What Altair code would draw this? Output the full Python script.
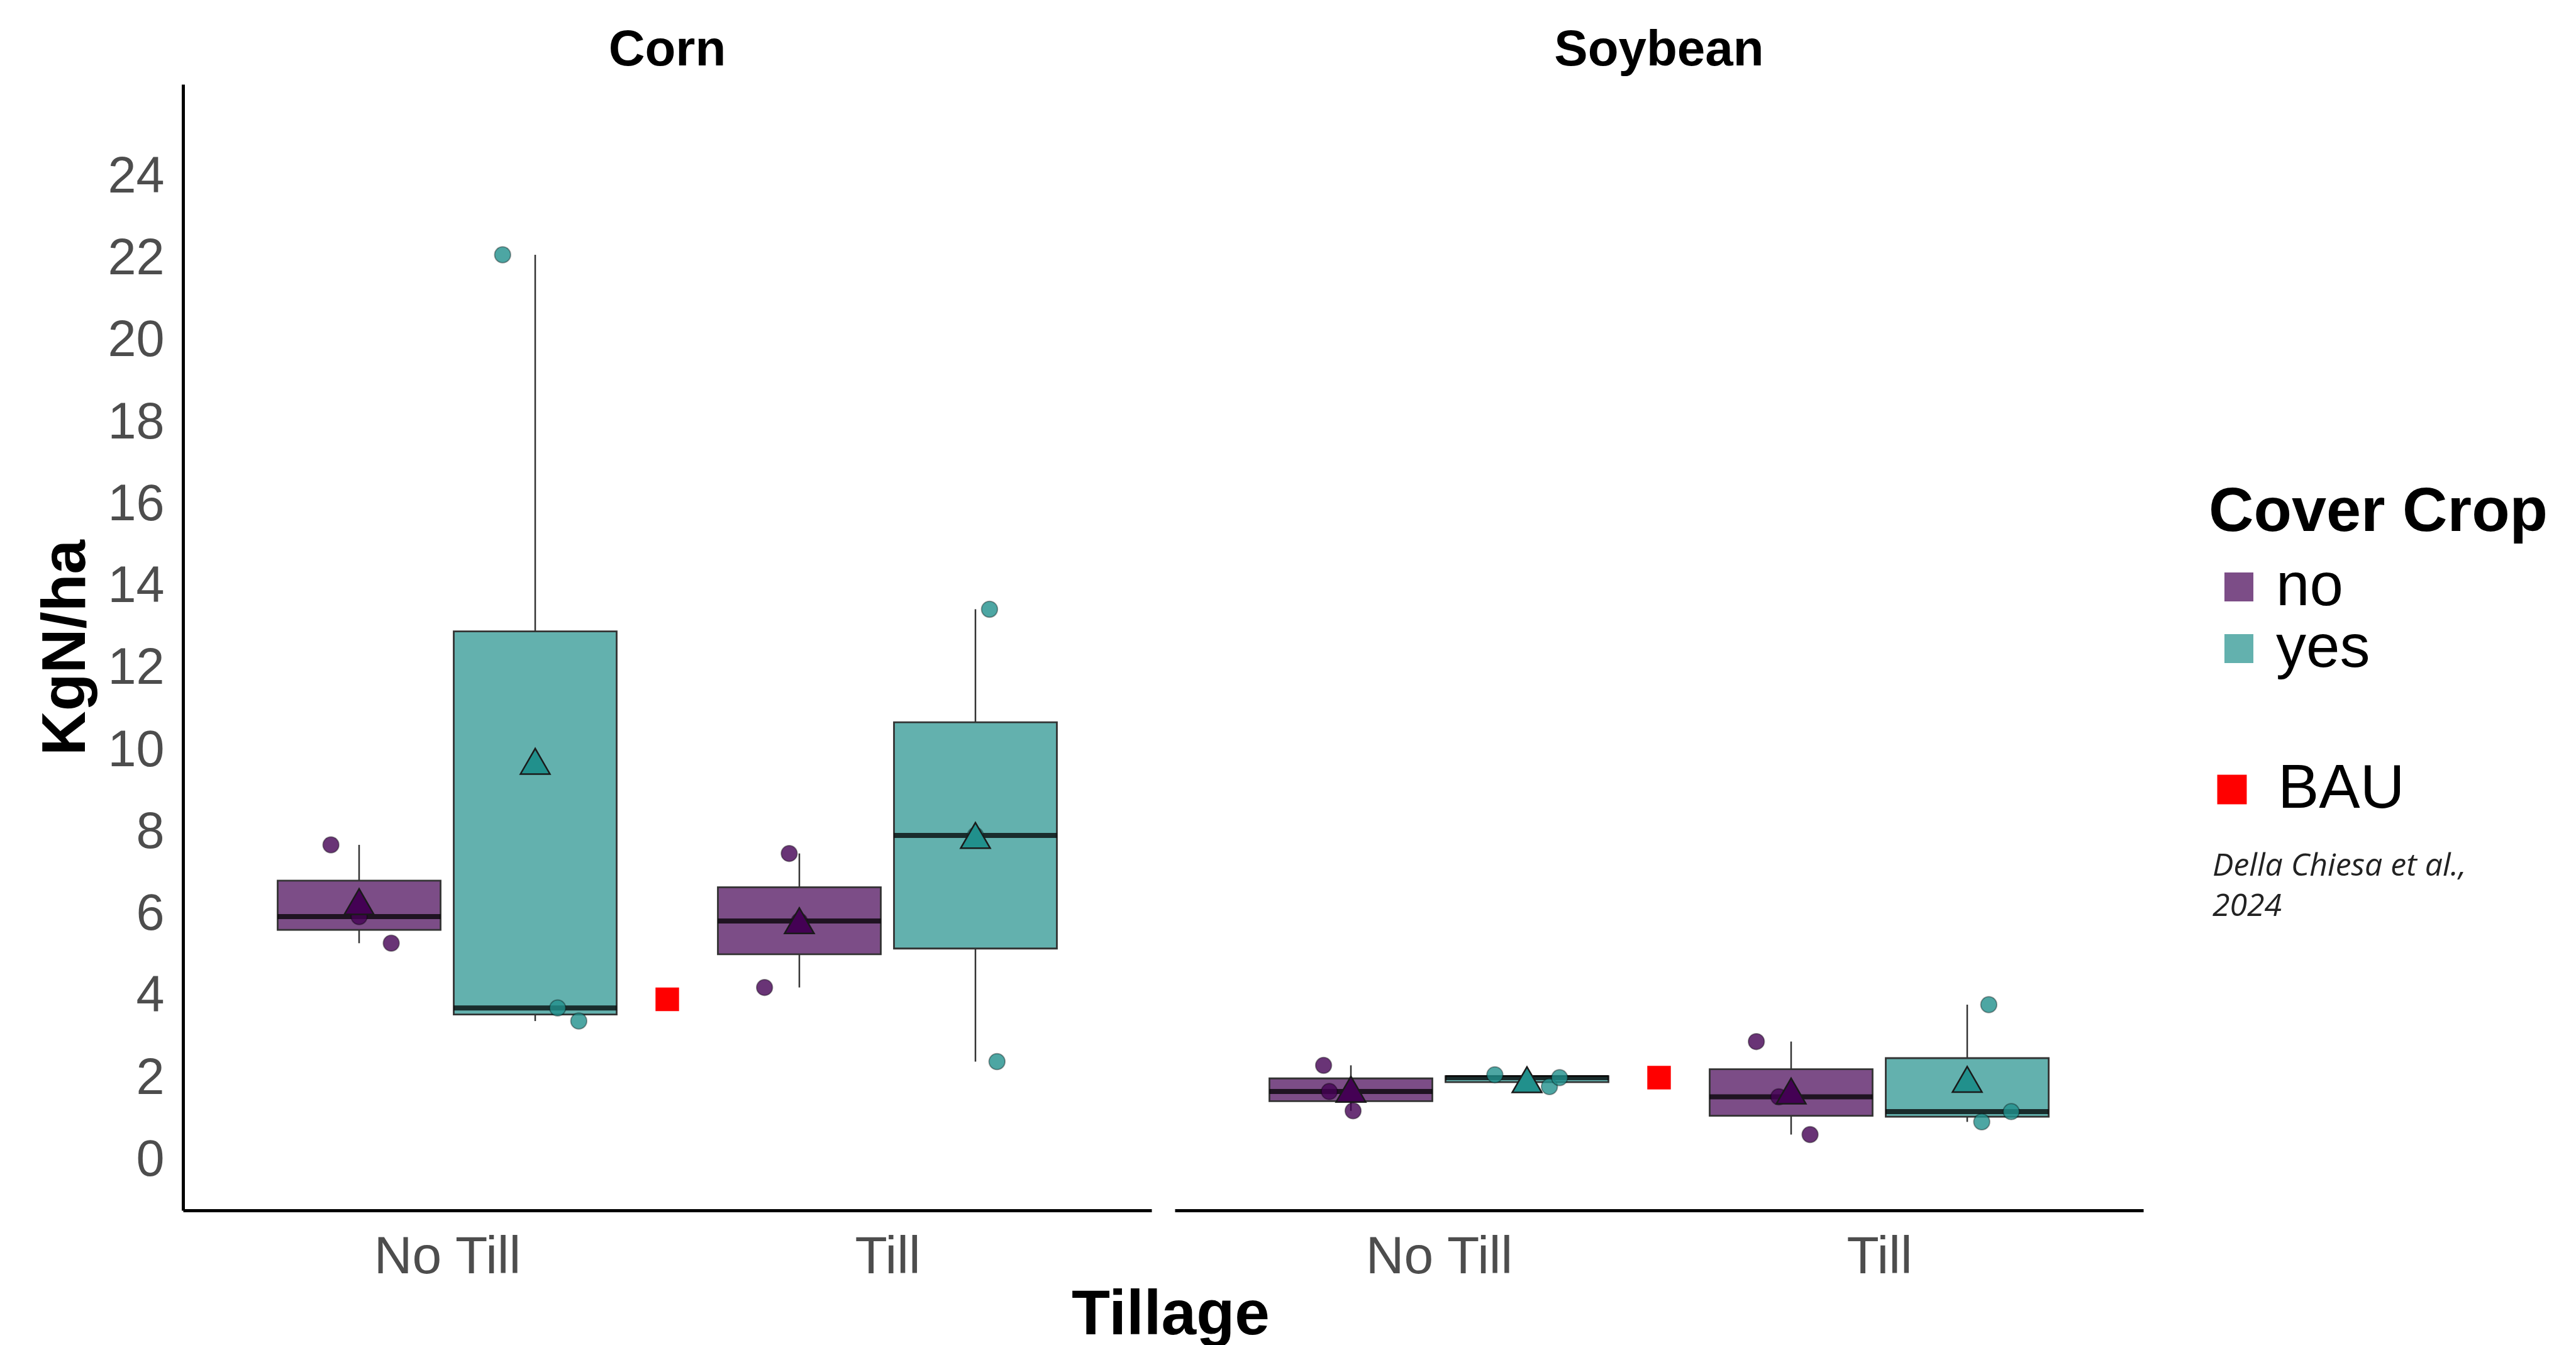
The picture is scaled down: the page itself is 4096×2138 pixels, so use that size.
import altair as alt
import pandas as pd

# ---------------- data ----------------
CROPS = ["Corn", "Soybean"]
TILLAGE = ["No Till", "Till"]
COVER = ["no", "yes"]

# three replicate values (KgN/ha) per crop x tillage x cover crop
CORN_NOTILL_NO = [7.70, 5.95, 5.30]
CORN_NOTILL_YES = [22.10, 3.72, 3.40]
CORN_TILL_NO = [7.49, 5.84, 4.22]
CORN_TILL_YES = [13.45, 7.93, 2.41]
SOY_NOTILL_NO = [2.32, 1.68, 1.21]
SOY_NOTILL_YES = [2.09, 1.80, 2.02]
SOY_TILL_NO = [2.90, 1.55, 0.63]
SOY_TILL_YES = [3.80, 1.19, 0.94]

BAU_VALUES = [3.93, 2.02]  # Corn, Soybean
BAU_LABEL = "BAU"
CITATION = ["Della Chiesa et al.,", "2024"]

# horizontal jitter of the replicate points (x units)
JIT_CORN_NOTILL_NO = [-0.064, 0.0, 0.073]
JIT_CORN_NOTILL_YES = [-0.074, 0.051, 0.099]
JIT_CORN_TILL_NO = [-0.023, 0.0, -0.079]
JIT_CORN_TILL_YES = [0.032, 0.0, 0.049]
JIT_SOY_NOTILL_NO = [-0.062, -0.049, 0.005]
JIT_SOY_NOTILL_YES = [-0.073, 0.051, 0.074]
JIT_SOY_TILL_NO = [-0.079, -0.028, 0.043]
JIT_SOY_TILL_YES = [0.049, 0.100, 0.033]

GROUPS = [
    ("Corn", "No Till", "no", CORN_NOTILL_NO, JIT_CORN_NOTILL_NO),
    ("Corn", "No Till", "yes", CORN_NOTILL_YES, JIT_CORN_NOTILL_YES),
    ("Corn", "Till", "no", CORN_TILL_NO, JIT_CORN_TILL_NO),
    ("Corn", "Till", "yes", CORN_TILL_YES, JIT_CORN_TILL_YES),
    ("Soybean", "No Till", "no", SOY_NOTILL_NO, JIT_SOY_NOTILL_NO),
    ("Soybean", "No Till", "yes", SOY_NOTILL_YES, JIT_SOY_NOTILL_YES),
    ("Soybean", "Till", "no", SOY_TILL_NO, JIT_SOY_TILL_NO),
    ("Soybean", "Till", "yes", SOY_TILL_YES, JIT_SOY_TILL_YES),
]

rows = []
for crop, till, cov, vals, jits in GROUPS:
    for v, j in zip(vals, jits):
        rows.append(dict(kind="obs", crop=crop, tillage=till, cover=cov, value=v, jit=j))
for crop, v in zip(CROPS, BAU_VALUES):
    rows.append(dict(kind="bau", crop=crop, value=v, label=BAU_LABEL))
rows.append(dict(kind="cite", crop=CROPS[-1], cite="\n".join(CITATION)))
df = pd.DataFrame(rows)

# ---------------- styling ----------------
FONT = "Liberation Sans"
W, H = 1540, 1790
XDOM = [0.4, 2.6]
YDOM = [-1.22, 26.26]
DODGE = 0.2
HALF_BOX = 0.185

POS = (f"indexof({TILLAGE!r}, datum.tillage) + 1 + "
       f"(indexof({COVER!r}, datum.cover) * 2 - 1) * {DODGE}")

fill_scale = alt.Scale(domain=COVER, range=["#440154", "#21908C"])
x_scale = alt.Scale(domain=XDOM, nice=False, zero=False)
y_scale = alt.Scale(domain=YDOM, nice=False, zero=False)

x_axis = alt.Axis(values=[1, 2],
                  labelExpr=f"datum.value == 1 ? '{TILLAGE[0]}' : '{TILLAGE[1]}'",
                  title=None, grid=False, ticks=False, domainColor="black",
                  domainWidth=5, labelFontSize=84, labelColor="#4d4d4d",
                  labelPadding=33, labelFont=FONT, labelLimit=0)
y_axis = alt.Axis(values=list(range(0, 25, 2)), title="KgN/ha", titleFontSize=98,
                  titleFontWeight="bold", titleColor="black", titlePadding=15,
                  titleFont=FONT, titleLimit=0, grid=False, ticks=False,
                  domainColor="black", domainWidth=5, labelFontSize=81,
                  labelColor="#4d4d4d", labelPadding=30, labelFont=FONT, labelLimit=0)


def X(field):
    return alt.X(field, type="quantitative", scale=x_scale, axis=x_axis)


def Y(field):
    return alt.Y(field, type="quantitative", scale=y_scale, axis=y_axis)


obs = alt.Chart().transform_filter("datum.kind === 'obs'")
stats = obs.transform_aggregate(
    q1="q1(value)", med="median(value)", q3="q3(value)",
    lo="min(value)", hi="max(value)", mean="mean(value)",
    groupby=["crop", "tillage", "cover"],
).transform_calculate(
    xc=POS, xl=f"{POS} - {HALF_BOX}", xr=f"{POS} + {HALF_BOX}"
)

whisk_lo = stats.mark_rule(color="#333333", strokeWidth=2.5).encode(
    x=X("xc"), y=Y("lo"), y2="q1:Q")
whisk_hi = stats.mark_rule(color="#333333", strokeWidth=2.5).encode(
    x=X("xc"), y=Y("q3"), y2="hi:Q")

box = stats.mark_rect(stroke="#333333", strokeWidth=2.8, fillOpacity=0.7).encode(
    x=X("xl"), x2="xr:Q", y=Y("q1"), y2="q3:Q",
    fill=alt.Fill("cover:N", scale=fill_scale, legend=alt.Legend(
        title="Cover Crop", orient="none", legendX=3221, legendY=632,
        titleFontSize=99, titleFontWeight="bold", titleColor="black", titleFont=FONT,
        titlePadding=20, titleLimit=0, labelFontSize=96, labelColor="black",
        labelFont=FONT, labelLimit=0, labelOffset=11, symbolType="square",
        symbolSize=2116, symbolOpacity=0.7, symbolStrokeWidth=0, rowPadding=2,
        padding=0)))

med = stats.mark_rule(color="black", opacity=0.75, strokeWidth=8).encode(
    x=X("xl"), x2="xr:Q", y=Y("med"))

pts = obs.transform_calculate(xp=f"{POS} + datum.jit").mark_point(
    shape="circle", filled=True, size=650, opacity=1, fillOpacity=0.8,
    stroke="black", strokeOpacity=0.35, strokeWidth=2).encode(
    x=X("xp"), y=Y("value"),
    fill=alt.Fill("cover:N", scale=fill_scale, legend=None))

mean = stats.mark_point(shape="triangle-up", filled=True, size=2200, opacity=1,
                        stroke="#1a1a1a", strokeWidth=2.5).encode(
    x=X("xc"), y=Y("mean"),
    fill=alt.Fill("cover:N", scale=fill_scale, legend=None))

bau = alt.Chart().transform_filter("datum.kind === 'bau'").transform_calculate(
    xb=f"(1 + {len(TILLAGE)}) / 2").mark_square(size=1400, opacity=1).encode(
    x=X("xb"), y=Y("value"),
    color=alt.Color("label:N", scale=alt.Scale(domain=[BAU_LABEL], range=["#ff0000"]),
                    legend=alt.Legend(
                        title=None, orient="none", legendX=3209, legendY=1072,
                        labelFontSize=98, labelColor="black", labelFont=FONT,
                        labelLimit=0, labelOffset=24, symbolType="square",
                        symbolSize=2200, symbolStrokeWidth=0, padding=0)))

cite = alt.Chart().transform_filter("datum.kind === 'cite'").mark_text(
    align="left", baseline="alphabetic", fontSize=50, font="Open Sans",
    fontStyle="italic", lineBreak="\n", lineHeight=64, color="#222222").encode(
    x=alt.value(1650), y=alt.value(1258), text="cite:N")

layered = alt.layer(whisk_lo, whisk_hi, box, med, pts, mean, bau, cite, data=df).properties(
    width=W, height=H)

chart = layered.facet(
    column=alt.Column("crop:N", sort=CROPS, header=alt.Header(
        title=None, labelFontSize=80, labelFontWeight="bold", labelColor="black",
        labelFont=FONT, labelPadding=-50, labelBaseline="alphabetic")),
    spacing=37,
    bounds="flush",
).properties(
    title=alt.TitleParams("Tillage", orient="bottom", anchor="middle", fontSize=100,
                          font=FONT, fontWeight="bold", color="black", offset=2,
                          dx=-193),
    padding={"left": 48, "top": 32, "right": 5, "bottom": 0},
).configure_view(stroke=None).configure_axis(grid=False)

chart.save("out.html", embed_options={"renderer": "svg", "actions": False})
